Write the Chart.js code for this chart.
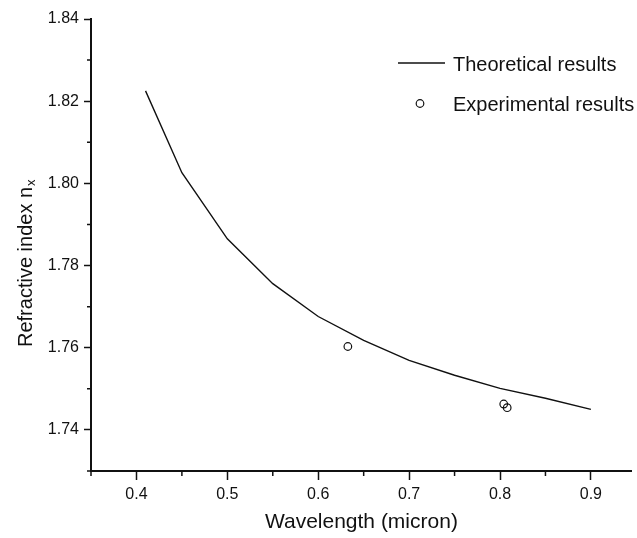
<!DOCTYPE html>
<html>
<head>
<meta charset="utf-8">
<script src="https://cdn.jsdelivr.net/npm/chart.js@4.4.1/dist/chart.umd.min.js"></script>
<style>
  html, body { margin: 0; padding: 0; background: #ffffff; }
  #wrap { width: 637px; height: 538px; }
</style>
</head>
<body>
<div id="wrap"><canvas id="c" width="637" height="538"></canvas></div>
<script>
// ---- data ----
const theoWavelength = [0.41, 0.45, 0.50, 0.55, 0.60, 0.65, 0.70, 0.75, 0.80, 0.85, 0.90];
const theoIndex      = [1.8225, 1.8026, 1.7865, 1.7756, 1.7676, 1.7618, 1.7569, 1.7533, 1.7501, 1.7477, 1.7450];
const expWavelength  = [0.6326, 0.8041, 0.8079];
const expIndex       = [1.7603, 1.7463, 1.7454];
const xTicks      = [0.4, 0.5, 0.6, 0.7, 0.8, 0.9];
const xTickLabels = ['0.4', '0.5', '0.6', '0.7', '0.8', '0.9'];
const xMinorTicks = [0.35, 0.45, 0.55, 0.65, 0.75, 0.85];
const yTicks      = [1.74, 1.76, 1.78, 1.80, 1.82, 1.84];
const yTickLabels = ['1.74', '1.76', '1.78', '1.80', '1.82', '1.84'];
const yMinorTicks = [1.73, 1.75, 1.77, 1.79, 1.81, 1.83];
const seriesLabels = ['Theoretical results', 'Experimental results'];
const xTitle = 'Wavelength (micron)';
const yTitleMain = 'Refractive index n';
const yTitleSub = 'x';

const FONT = '"Liberation Sans", Arial, sans-serif';
const INK = '#111111';

const minorTicksPlugin = {
  id: 'minorTicks',
  afterDraw(chart) {
    const ctx = chart.ctx;
    const xs = chart.scales.x, ys = chart.scales.y;
    const area = chart.chartArea;
    ctx.save();
    ctx.strokeStyle = INK;
    ctx.lineWidth = 1.5;
    ctx.beginPath();
    xMinorTicks.forEach(v => {
      const px = xs.getPixelForValue(v);
      if (px < area.left - 1 || px > area.right + 1) return;
      ctx.moveTo(px, area.bottom);
      ctx.lineTo(px, area.bottom + 5);
    });
    yMinorTicks.forEach(v => {
      const py = ys.getPixelForValue(v);
      ctx.moveTo(area.left, py);
      ctx.lineTo(area.left - 4, py);
    });
    ctx.stroke();
    ctx.restore();
  }
};

const yTitlePlugin = {
  id: 'yTitle',
  afterDraw(chart) {
    const ctx = chart.ctx;
    ctx.save();
    ctx.translate(31.5, 347);
    ctx.rotate(-Math.PI / 2);
    ctx.fillStyle = INK;
    ctx.textAlign = 'left';
    ctx.textBaseline = 'alphabetic';
    ctx.font = '20px ' + FONT;
    ctx.fillText(yTitleMain, 0, 0);
    const w = ctx.measureText(yTitleMain).width;
    ctx.font = '13px ' + FONT;
    ctx.fillText(yTitleSub, w + 1, 3);
    ctx.restore();
  }
};

const legendPlugin = {
  id: 'customLegend',
  afterDraw(chart) {
    const ctx = chart.ctx;
    const ds = chart.data.datasets;
    ctx.save();
    ctx.strokeStyle = ds[0].borderColor;
    ctx.lineWidth = ds[0].borderWidth;
    ctx.beginPath();
    ctx.moveTo(398, 63);
    ctx.lineTo(445, 63);
    ctx.stroke();
    ctx.strokeStyle = ds[1].borderColor;
    ctx.lineWidth = ds[1].borderWidth;
    ctx.fillStyle = '#ffffff';
    ctx.beginPath();
    ctx.arc(420, 103.5, ds[1].pointRadius, 0, Math.PI * 2);
    ctx.fill();
    ctx.stroke();
    ctx.fillStyle = INK;
    ctx.font = '20px ' + FONT;
    ctx.textAlign = 'left';
    ctx.textBaseline = 'alphabetic';
    ctx.fillText(ds[0].label, 453, 70.5);
    ctx.fillText(ds[1].label, 453, 110.5);
    ctx.restore();
  }
};

const theoData = theoWavelength.map((x, i) => ({ x: x, y: theoIndex[i] }));
const expData = expWavelength.map((x, i) => ({ x: x, y: expIndex[i] }));

new Chart(document.getElementById('c'), {
  type: 'scatter',
  data: {
    datasets: [
      {
        label: seriesLabels[0],
        data: theoData,
        showLine: true,
        borderColor: '#111111',
        borderWidth: 1.4,
        pointRadius: 0,
        pointHoverRadius: 0,
        tension: 0,
        fill: false
      },
      {
        label: seriesLabels[1],
        data: expData,
        showLine: false,
        pointStyle: 'circle',
        pointRadius: 3.8,
        borderColor: '#111111',
        borderWidth: 1.2,
        backgroundColor: 'rgba(255,255,255,0)'
      }
    ]
  },
  options: {
    responsive: false,
    animation: false,
    devicePixelRatio: 1,
    layout: { padding: { top: 19, right: 0, bottom: 0, left: 0 } },
    plugins: {
      legend: { display: false },
      tooltip: { enabled: false }
    },
    scales: {
      x: {
        type: 'linear',
        min: 0.35,
        max: 0.945,
        afterBuildTicks(scale) { scale.ticks = xTicks.map(v => ({ value: v })); },
        afterFit(scale) { scale.height = 67; },
        ticks: {
          autoSkip: false,
          maxRotation: 0,
          minRotation: 0,
          padding: 5,
          color: INK,
          font: { family: FONT, size: 16 },
          callback(value) {
            const i = xTicks.findIndex(t => Math.abs(t - value) < 1e-9);
            return i >= 0 ? xTickLabels[i] : '';
          }
        },
        grid: {
          drawOnChartArea: false,
          drawTicks: true,
          tickLength: 9,
          tickWidth: 1.5,
          tickColor: INK
        },
        border: { display: true, color: INK, width: 2 },
        title: {
          display: true,
          text: xTitle,
          color: INK,
          font: { family: FONT, size: 21 },
          padding: { top: 0, bottom: 3 }
        }
      },
      y: {
        type: 'linear',
        min: 1.73,
        max: 1.84,
        afterBuildTicks(scale) { scale.ticks = yTicks.map(v => ({ value: v })); },
        afterFit(scale) { scale.width = 91; },
        ticks: {
          autoSkip: false,
          padding: 5,
          color: INK,
          font: { family: FONT, size: 16 },
          callback(value) {
            const i = yTicks.findIndex(t => Math.abs(t - value) < 1e-9);
            return i >= 0 ? yTickLabels[i] : '';
          }
        },
        grid: {
          drawOnChartArea: false,
          drawTicks: true,
          tickLength: 7,
          tickWidth: 1.5,
          tickColor: INK
        },
        border: { display: true, color: INK, width: 2 },
        title: { display: false }
      }
    }
  },
  plugins: [minorTicksPlugin, yTitlePlugin, legendPlugin]
});
</script>
</body>
</html>
